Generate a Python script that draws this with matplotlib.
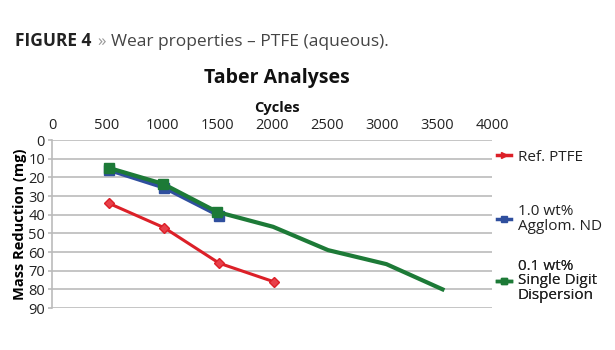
import matplotlib
matplotlib.use("Agg")
import matplotlib.pyplot as plt
from matplotlib.lines import Line2D

plt.rcParams['font.family'] = ['Open Sans', 'DejaVu Sans']

# data
ref_cycles = [520, 1020, 1520, 2020]
ref_mass = [34, 47, 66, 76]
agg_cycles = [515, 1020, 1520]
agg_mass = [16, 25.5, 40.5]
sdd_cycles = [520, 1010, 1500, 2010, 2510, 3040, 3550]
sdd_mass = [15, 23.5, 38.5, 46.5, 59, 66.5, 80]

x_ticks = [0, 500, 1000, 1500, 2000, 2500, 3000, 3500, 4000]
y_ticks = [0, 10, 20, 30, 40, 50, 60, 70, 80, 90]

labels = ["Ref. PTFE", "1.0 wt%\nAgglom. ND", "0.1 wt%\nSingle Digit\nDispersion"]
colors = ['#DC2028', '#2F4F9E', '#1D7A37']

W, H = 615, 350
fig = plt.figure(figsize=(W / 100, H / 100), dpi=100)
ax = fig.add_axes([52 / W, 1 - 308 / H, 440 / W, 168 / H])

ax.plot(ref_cycles, ref_mass, '-D', color=colors[0], lw=2.2, ms=5,
        markerfacecolor='#E8404A', markeredgecolor=colors[0], zorder=3)
ax.plot(agg_cycles, agg_mass, '-s', color=colors[1], lw=3, ms=7.5, zorder=3)
ax.plot(sdd_cycles, sdd_mass, '-s', color=colors[2], lw=3, ms=7.5,
        markevery=[0, 1, 2], zorder=4)

ax.set_xlim(0, 4000)
ax.set_ylim(90, 0)
ax.set_xticks(x_ticks)
ax.set_yticks(y_ticks)
ax.xaxis.tick_top()
ax.tick_params(axis='x', length=0, labelsize=10.5, colors='#222222', pad=5)
ax.tick_params(axis='y', length=3, width=1.2, color='#BBBBBB',
               labelsize=10.5, labelcolor='#222222', pad=2)
ax.grid(axis='y', color='#BBBBBB', lw=1.2)
ax.set_axisbelow(True)
for s in ['top', 'right', 'bottom']:
    ax.spines[s].set_visible(False)
ax.spines['left'].set_color('#BBBBBB')
ax.spines['left'].set_linewidth(1.2)

ax.set_ylabel("Mass Reduction (mg)", fontsize=10.5, fontweight='bold', labelpad=1)
fig.text(277 / W, 1 - 112 / H, "Cycles", ha='center', va='baseline',
         fontsize=10.5, fontweight='bold', color='#111111')
fig.text(277 / W, 1 - 83 / H, "Taber Analyses", ha='center', va='baseline',
         fontsize=14, fontweight='bold', color='#111111')

# legend: one box per entry so spacing matches the original
anchors = [157, 219, 281]
markers = ['>', 's', 's']
for lab, col, m, yy in zip(labels, colors, markers, anchors):
    h = Line2D([0], [0], color=col, lw=2.5, marker=m, ms=4)
    lg = ax.legend(handles=[h], labels=[lab], loc='center left',
                   bbox_to_anchor=(497 / W, 1 - yy / H),
                   bbox_transform=fig.transFigure, frameon=False,
                   fontsize=11, handlelength=0.9, handletextpad=0.45,
                   borderaxespad=0, borderpad=0)
    for t in lg.get_texts():
        t.set_linespacing(0.95)
        t.set_color('#222222')
    ax.add_artist(lg)

# figure caption with mixed styles
r = fig.canvas.get_renderer()
base = 1 - 46 / H
t1 = fig.text(15 / W, base, "FIGURE 4", fontsize=12.5, fontweight='bold',
              color='#222222', va='baseline')
bb = t1.get_window_extent(r)
t2 = fig.text((bb.x1 + 6) / W, base, "»", fontsize=12.5, color='#999999',
              va='baseline')
bb2 = t2.get_window_extent(r)
fig.text((bb2.x1 + 5) / W, base, "Wear properties – PTFE (aqueous).",
         fontsize=12.5, color='#444444', va='baseline')

fig.savefig("out.png", dpi=100)
